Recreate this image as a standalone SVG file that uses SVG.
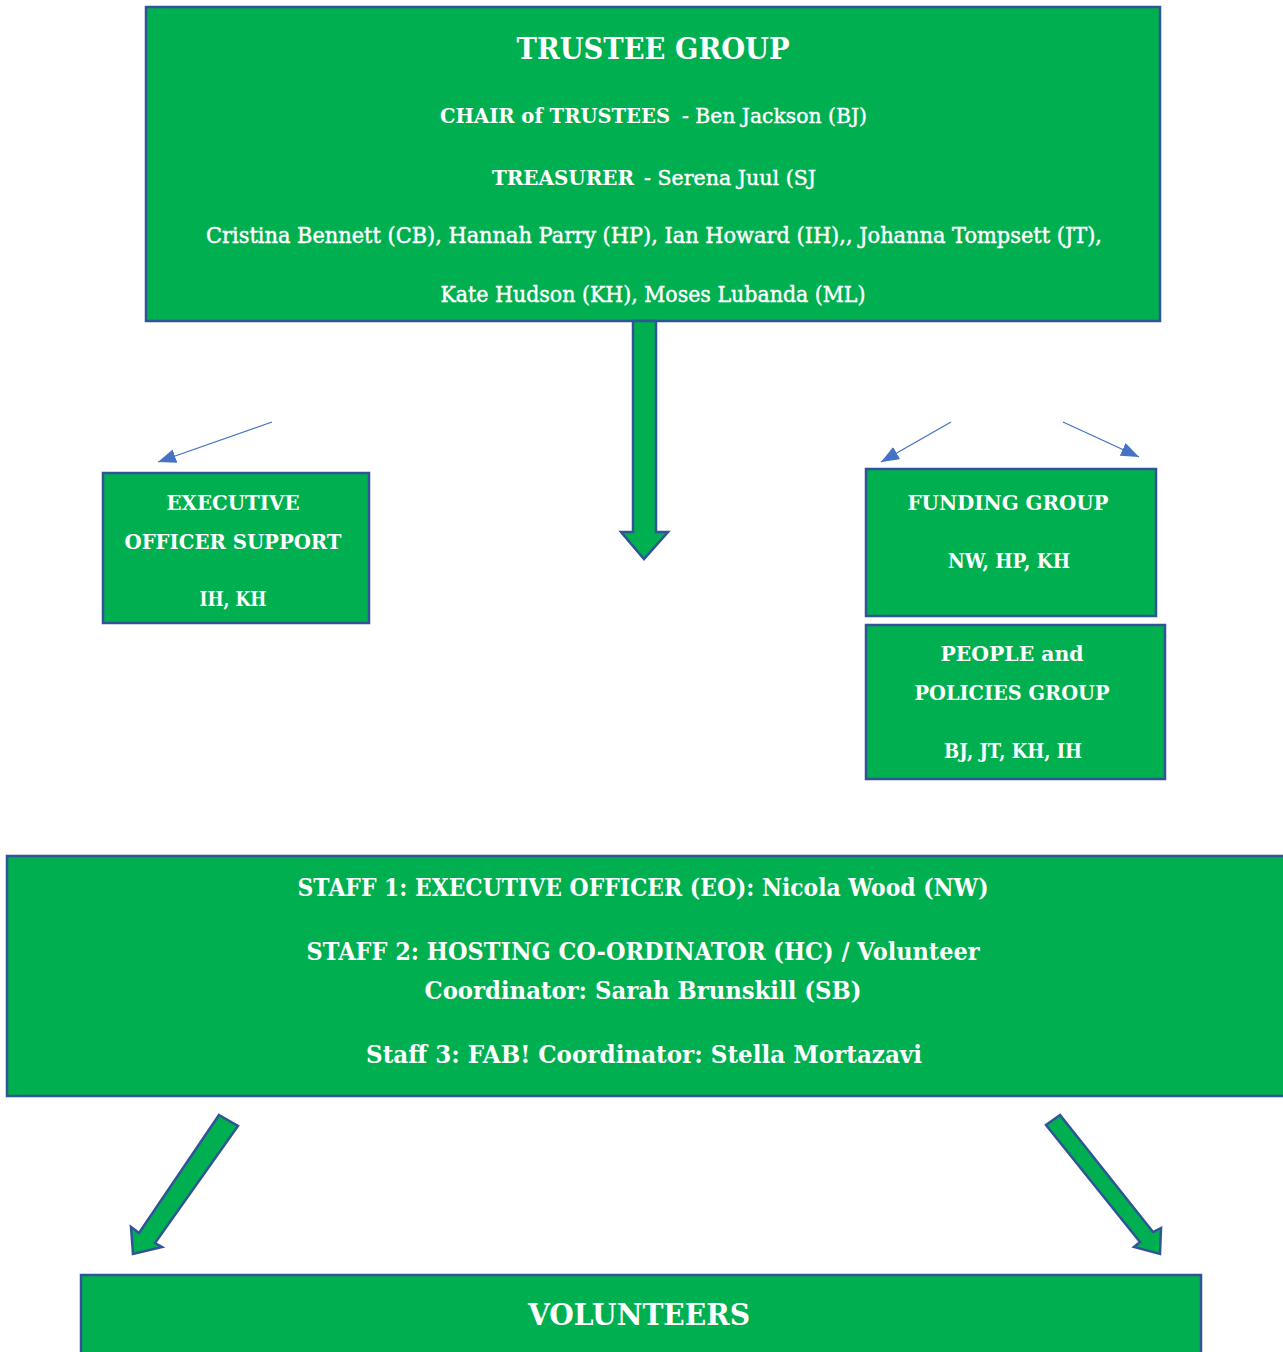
<svg xmlns="http://www.w3.org/2000/svg" width="1283" height="1352" viewBox="0 0 1283 1352">
<style>
.box{fill:#00B050;stroke:#2F5597;stroke-width:2.5}
.t{fill:#ffffff;font-family:"DejaVu Serif","Liberation Serif",serif;text-anchor:middle}
.s{text-anchor:start}
.b{font-weight:bold}
.r{stroke:#ffffff;stroke-width:0.45}
.thin{stroke:#4472C4;stroke-width:1.3;fill:none}
.big{fill:#00B050;stroke:#2F5597;stroke-width:2.5;stroke-linejoin:miter}
</style>
<defs>
<marker id="ah" markerUnits="userSpaceOnUse" markerWidth="18" markerHeight="14" refX="18" refY="7" orient="auto">
<path d="M0,0 L18,7 L0,14 z" fill="#4472C4"/>
</marker>
</defs>
<rect width="1283" height="1352" fill="#ffffff"/>

<g id="trustee-group">
<rect class="box" x="146" y="7" width="1014" height="314"/>
<text class="t b" x="653" y="59" font-size="30" textLength="273" lengthAdjust="spacingAndGlyphs">TRUSTEE GROUP</text>
<text class="t s b" x="440" y="123" font-size="21" textLength="230" lengthAdjust="spacingAndGlyphs">CHAIR of TRUSTEES</text>
<text class="t s r" x="682" y="123" font-size="21" textLength="185" lengthAdjust="spacingAndGlyphs">- Ben Jackson (BJ)</text>
<text class="t s b" x="492" y="185" font-size="21" textLength="142" lengthAdjust="spacingAndGlyphs">TREASURER</text>
<text class="t s r" x="644" y="185" font-size="21" textLength="172" lengthAdjust="spacingAndGlyphs">- Serena Juul (SJ</text>
<text class="t r" x="654" y="243" font-size="22" textLength="896" lengthAdjust="spacingAndGlyphs">Cristina Bennett (CB), Hannah Parry (HP), Ian Howard (IH),, Johanna Tompsett (JT),</text>
<text class="t r" x="653" y="302" font-size="22" textLength="425" lengthAdjust="spacingAndGlyphs">Kate Hudson (KH),  Moses Lubanda (ML)</text>
</g>

<g id="executive-officer-support">
<rect class="box" x="103" y="473" width="266" height="150"/>
<text class="t b" x="233" y="510" font-size="21" textLength="133" lengthAdjust="spacingAndGlyphs">EXECUTIVE</text>
<text class="t b" x="233" y="549" font-size="21" textLength="217" lengthAdjust="spacingAndGlyphs">OFFICER SUPPORT</text>
<text class="t b" x="233" y="606" font-size="21" textLength="67" lengthAdjust="spacingAndGlyphs">IH, KH</text>
</g>

<g id="funding-group">
<rect class="box" x="866" y="469" width="290" height="147"/>
<text class="t b" x="1008" y="510" font-size="21" textLength="201" lengthAdjust="spacingAndGlyphs">FUNDING GROUP</text>
<text class="t b" x="1009" y="568" font-size="21" textLength="122" lengthAdjust="spacingAndGlyphs">NW, HP, KH</text>
</g>

<g id="people-policies-group">
<rect class="box" x="866" y="625" width="299" height="154"/>
<text class="t b" x="1012" y="661" font-size="21" textLength="143" lengthAdjust="spacingAndGlyphs">PEOPLE and</text>
<text class="t b" x="1012" y="700" font-size="21" textLength="195" lengthAdjust="spacingAndGlyphs">POLICIES GROUP</text>
<text class="t b" x="1013" y="758" font-size="21" textLength="138" lengthAdjust="spacingAndGlyphs">BJ, JT, KH, IH</text>
</g>

<g id="staff">
<rect class="box" x="7" y="856" width="1280" height="240"/>
<text class="t b" x="643" y="896" font-size="24" textLength="691" lengthAdjust="spacingAndGlyphs">STAFF 1:  EXECUTIVE OFFICER (EO): Nicola Wood (NW)</text>
<text class="t b" x="643" y="960" font-size="24" textLength="673" lengthAdjust="spacingAndGlyphs">STAFF 2:  HOSTING CO-ORDINATOR (HC) / Volunteer</text>
<text class="t b" x="643" y="999" font-size="24" textLength="437" lengthAdjust="spacingAndGlyphs">Coordinator: Sarah Brunskill (SB)</text>
<text class="t b" x="644" y="1063" font-size="24" textLength="556" lengthAdjust="spacingAndGlyphs">Staff 3: FAB! Coordinator: Stella Mortazavi</text>
</g>

<g id="volunteers">
<rect class="box" x="81" y="1275" width="1120" height="90"/>
<text class="t b" x="639" y="1325" font-size="30" textLength="222" lengthAdjust="spacingAndGlyphs">VOLUNTEERS</text>
</g>

<g id="connectors">
<path class="big" d="M633,321 L656,321 L656,532 L668,532 L644,559 L621,532 L633,532 Z"/>
<path class="big" d="M219,1115 L238,1126 L155,1243 L162,1247 L133,1254 L131,1227 L139,1233 Z"/>
<path class="big" d="M1060,1115 L1046,1125 L1140,1242 L1134,1247 L1160,1254 L1161,1228 L1153,1232 Z"/>
<line class="thin" x1="272" y1="422" x2="158" y2="462" marker-end="url(#ah)"/>
<line class="thin" x1="951" y1="422" x2="881" y2="462" marker-end="url(#ah)"/>
<line class="thin" x1="1063" y1="422" x2="1139" y2="457" marker-end="url(#ah)"/>
</g>
</svg>
